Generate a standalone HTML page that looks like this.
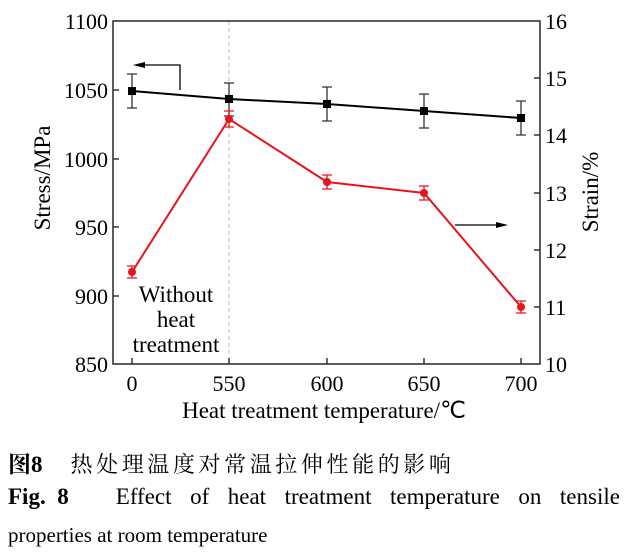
<!DOCTYPE html>
<html><head><meta charset="utf-8"><style>
body{margin:0;background:#fff;width:627px;height:556px;overflow:hidden;font-family:"Liberation Serif","Noto Serif CJK SC",serif}
.c{position:absolute;left:8px;color:#000}
</style></head><body>
<svg width="627" height="430" style="position:absolute;left:0;top:0" font-family="Liberation Serif, serif" font-size="22">
<line x1="229" y1="21" x2="229" y2="364" stroke="#bbb" stroke-dasharray="4,3" stroke-width="1"/>
<rect x="113" y="21" width="427" height="343" fill="none" stroke="#333" stroke-width="1.6"/>
<g stroke="#333" stroke-width="1.5">
<line x1="113" y1="90" x2="119" y2="90"/><line x1="113" y1="159" x2="119" y2="159"/><line x1="113" y1="227" x2="119" y2="227"/><line x1="113" y1="296" x2="119" y2="296"/>
<line x1="540" y1="78" x2="534" y2="78"/><line x1="540" y1="135" x2="534" y2="135"/><line x1="540" y1="193" x2="534" y2="193"/><line x1="540" y1="250" x2="534" y2="250"/><line x1="540" y1="307" x2="534" y2="307"/>
<line x1="132" y1="364" x2="132" y2="358"/><line x1="229" y1="364" x2="229" y2="358"/><line x1="327" y1="364" x2="327" y2="358"/><line x1="424" y1="364" x2="424" y2="358"/><line x1="521" y1="364" x2="521" y2="358"/>
</g>
<g text-anchor="end"><text x="108" y="29">1100</text><text x="108" y="98">1050</text><text x="108" y="167">1000</text><text x="108" y="235">950</text><text x="108" y="304">900</text><text x="108" y="372">850</text></g>
<g><text x="545" y="29">16</text><text x="545" y="86">15</text><text x="545" y="143">14</text><text x="545" y="201">13</text><text x="545" y="258">12</text><text x="545" y="315">11</text><text x="545" y="372">10</text></g>
<g text-anchor="middle"><text x="132" y="391">0</text><text x="229" y="391">550</text><text x="327" y="391">600</text><text x="424" y="391">650</text><text x="521" y="391">700</text>
<text x="324" y="418" font-size="23">Heat treatment temperature/℃</text>
<g font-size="23"><text x="176" y="302">Without</text><text x="176" y="327">heat</text><text x="176" y="352">treatment</text></g></g>
<text transform="translate(50,178) rotate(-90)" text-anchor="middle" font-size="23">Stress/MPa</text>
<text transform="translate(598,192) rotate(-90)" text-anchor="middle" font-size="23">Strain/%</text>
<polyline points="132,91 229,99 327,104 424,111 521,118" fill="none" stroke="#000" stroke-width="2"/>
<g stroke="#333" stroke-width="1.3">
<path d="M132,74V108M127,74H137M127,108H137"/><path d="M229,83V116M224,83H234M224,116H234"/><path d="M327,87V121M322,87H332M322,121H332"/><path d="M424,94V128M419,94H429M419,128H429"/><path d="M521,101V135M516,101H526M516,135H526"/>
</g>
<g fill="#000"><rect x="128" y="87" width="8" height="8"/><rect x="225" y="95" width="8" height="8"/><rect x="323" y="100" width="8" height="8"/><rect x="420" y="107" width="8" height="8"/><rect x="517" y="114" width="8" height="8"/></g>
<polyline points="132,272 229,119 327,182 424,193 521,307" fill="none" stroke="#e8141c" stroke-width="2"/>
<g stroke="#e8141c" stroke-width="1.3">
<path d="M132,266V278M127,266H137M127,278H137"/><path d="M229,111V127M224,111H234M224,127H234"/><path d="M327,175V189M322,175H332M322,189H332"/><path d="M424,186V200M419,186H429M419,200H429"/><path d="M521,301V313M516,301H526M516,313H526"/>
</g>
<g fill="#e8141c"><circle cx="132" cy="272" r="4"/><circle cx="229" cy="119" r="4"/><circle cx="327" cy="182" r="4"/><circle cx="424" cy="193" r="4"/><circle cx="521" cy="307" r="4"/></g>
<g stroke="#000" stroke-width="1.3" fill="none"><path d="M180,90V65H140"/><path d="M455,225H500"/></g>
<path d="M133,65L145,62V68Z" fill="#000"/><path d="M508,225L496,222V228Z" fill="#000"/>
</svg>
<div class="c" style="top:446px;font-size:22px;white-space:nowrap"><b style="font-size:23px">图8</b><span style="display:inline-block;width:28px"></span><span style="letter-spacing:3.6px">热处理温度对常温拉伸性能的影响</span></div>
<div class="c" style="top:484px;font-size:23px;width:612px;display:flex;justify-content:space-between;white-space:nowrap"><b>Fig.&nbsp; 8</b><span style="width:10px"></span><span>Effect</span><span>of</span><span>heat</span><span>treatment</span><span>temperature</span><span>on</span><span>tensile</span></div>
<div class="c" style="top:523px;font-size:21px">properties at room temperature</div>
</body></html>
